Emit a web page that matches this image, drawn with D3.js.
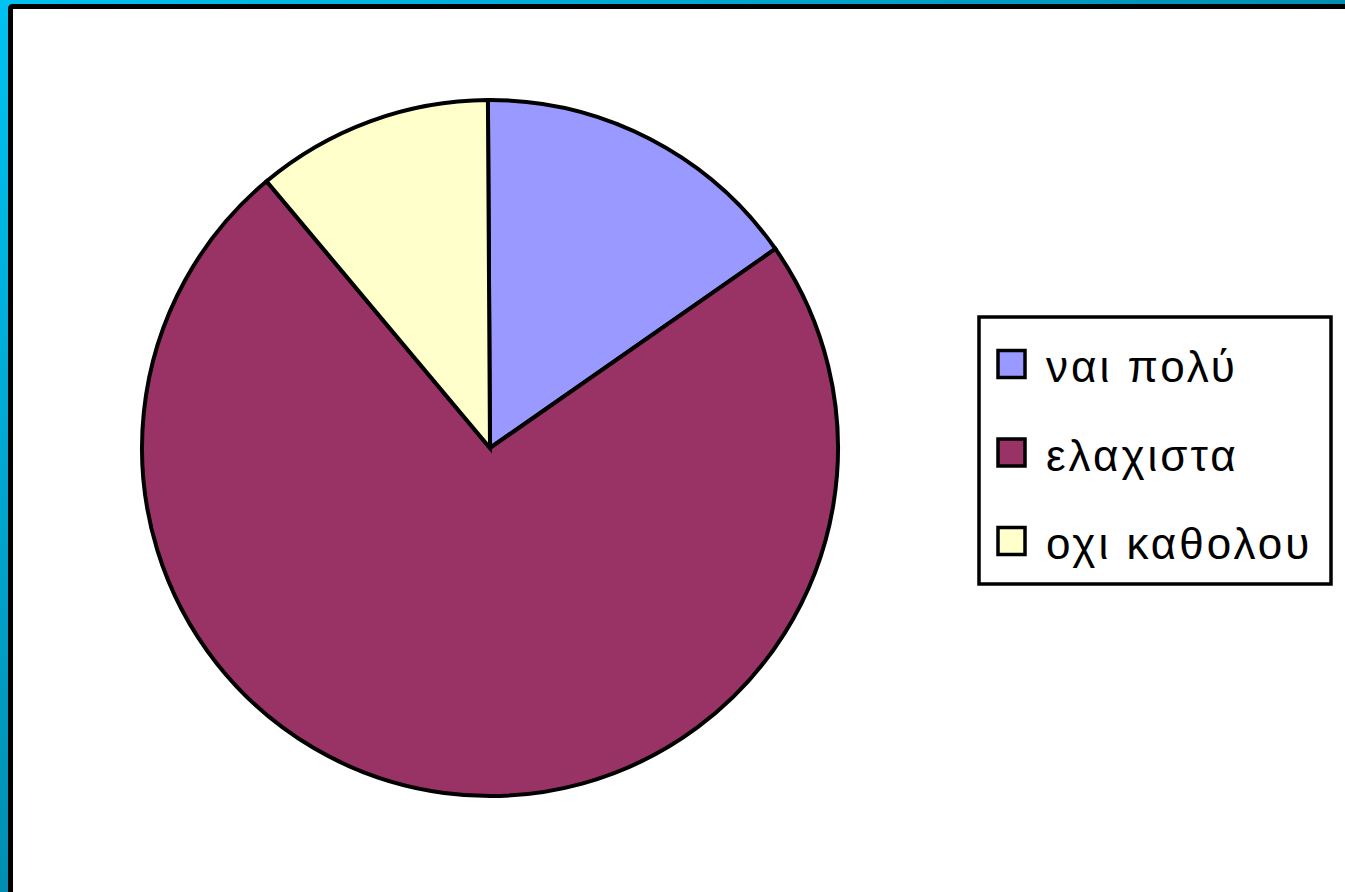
<!DOCTYPE html>
<html>
<head>
<meta charset="utf-8">
<script src="https://cdn.jsdelivr.net/npm/d3@7"></script>
<style>
  html, body { margin: 0; padding: 0; background: #fff; }
  svg { display: block; }
</style>
</head>
<body>
<svg id="chart" width="1345" height="892"></svg>
<script>
// Survey answers (share of respondents, %)
const categories = ["ναι πολύ", "ελαχιστα", "οχι καθολου"];
const values = [15.4, 73.6, 11.0];
const colors = ["#9999FF", "#993366", "#FFFFCC"];

const W = 1345, H = 892;
const svg = d3.select("#chart");

// Slide frame: diagonal cyan-to-teal band with a black inner rule
const defs = svg.append("defs");
const grad = defs.append("linearGradient")
  .attr("id", "frameGrad")
  .attr("x1", 0).attr("y1", 0).attr("x2", 1).attr("y2", 1);
grad.append("stop").attr("offset", "0%").attr("stop-color", "#00C2F2");
grad.append("stop").attr("offset", "100%").attr("stop-color", "#005C74");

svg.append("rect").attr("x", 0).attr("y", 0).attr("width", W).attr("height", H)
  .attr("fill", "url(#frameGrad)");
svg.append("rect").attr("x", 10.5).attr("y", 6.5).attr("width", W + 20).attr("height", H + 20)
  .attr("rx", 2)
  .attr("fill", "#fff").attr("stroke", "#000").attr("stroke-width", 5);

// Pie
const cx = 490, cy = 448, r = 348;
const pie = d3.pie().sort(null).value(d => d)
  .startAngle(-0.006).endAngle(2 * Math.PI - 0.006);
const arc = d3.arc().innerRadius(0).outerRadius(r);

const g = svg.append("g").attr("transform", `translate(${cx},${cy})`);
g.selectAll("path")
  .data(pie(values))
  .join("path")
  .attr("d", arc)
  .attr("fill", (d, i) => colors[i])
  .attr("stroke", "#000")
  .attr("stroke-width", 4)
  .attr("stroke-linejoin", "miter");

// Legend
const lx = 979, ly = 317, lw = 352, lh = 267;
const legend = svg.append("g");
legend.append("rect")
  .attr("x", lx).attr("y", ly).attr("width", lw).attr("height", lh)
  .attr("fill", "#fff").attr("stroke", "#000").attr("stroke-width", 3.5);

const rowY = d3.scalePoint().domain(categories).range([364, 541]);
const items = legend.selectAll("g.item")
  .data(categories)
  .join("g")
  .attr("class", "item")
  .attr("transform", d => `translate(0,${rowY(d)})`);

items.append("rect")
  .attr("x", 998).attr("y", -13.5).attr("width", 27).attr("height", 27)
  .attr("fill", (d, i) => colors[i])
  .attr("stroke", "#000").attr("stroke-width", 3.5);

items.append("text")
  .attr("x", 1046).attr("y", 18)
  .attr("font-family", "'Liberation Sans', Arial, sans-serif")
  .attr("font-size", 44)
  .attr("letter-spacing", 3)
  .attr("fill", "#000")
  .text(d => d);
</script>
</body>
</html>
